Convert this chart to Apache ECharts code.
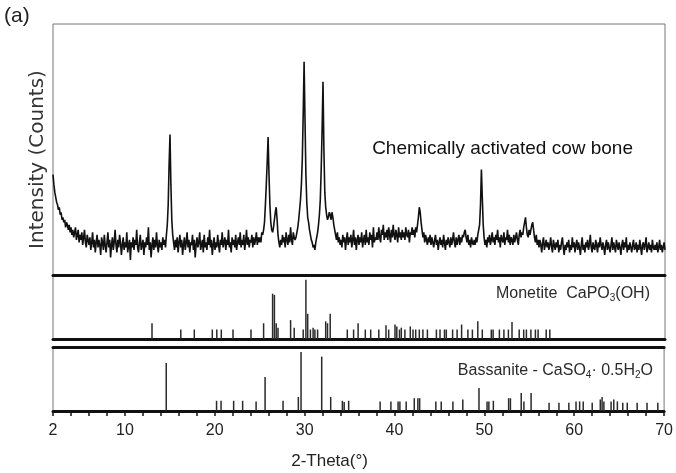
<!DOCTYPE html>
<html>
<head>
<meta charset="utf-8">
<script src="https://cdn.jsdelivr.net/npm/echarts@6/dist/echarts.min.js"></script>
<style>
  html, body { margin: 0; padding: 0; background: #fff; }
  #main { width: 676px; height: 473px; }
</style>
</head>
<body>
<div id="main"></div>
<script>
var myChart = echarts.init(document.getElementById('main'));

// measured pattern, 2-theta from 2 to 70 in 0.1 steps (relative counts)
var scanStart = 2;
var scanStep = 0.1;
var counts = [
  40,36,33,31,29,28,26,27,24,25,
  22,23,21,22,19,21,20,18,20,17,
  19,16,18,15,17,19,14,16,18,13,
  16,14,17,12,15,18,13,11,16,14,
  12,15,10,13,17,11,14,9,13,16,
  11,14,12,8,15,13,10,16,12,9,
  13,17,11,14,7,12,15,10,13,18,
  12,9,14,11,16,13,8,12,15,10,
  13,11,17,9,12,14,6,13,11,15,
  10,14,12,18,11,9,13,16,10,12,
  14,8,13,11,15,12,19,10,13,7,
  12,15,10,14,11,17,12,9,14,11,
  13,10,15,12,14,11,16,20,28,44,
  56,36,22,16,13,10,14,11,15,9,
  13,16,11,14,8,12,15,10,13,17,
  11,14,9,13,12,16,10,14,7,12,
  15,11,13,17,10,12,14,9,16,11,
  13,10,15,12,18,11,14,8,12,15,
  10,13,11,16,12,9,14,12,17,11,
  13,15,10,14,12,18,11,13,9,15,
  12,14,11,16,10,13,15,12,17,11,
  14,12,16,10,13,18,12,15,11,14,
  13,16,11,15,12,14,17,12,15,13,
  15,13,17,16,18,21,28,36,45,55,
  40,28,21,18,17,19,22,25,27,22,
  16,13,11,14,12,16,13,15,11,17,
  14,12,16,13,19,14,12,17,15,14,
  15,17,19,22,26,30,36,46,64,85,
  62,40,29,23,21,18,16,14,13,11,
  12,10,13,15,17,20,24,30,42,58,
  77,50,33,27,24,22,23,25,24,22,
  25,23,20,18,16,14,17,13,15,12,
  14,11,16,13,15,10,14,17,12,15,
  13,16,11,14,18,12,15,10,14,16,
  12,15,13,17,11,14,16,12,18,13,
  15,12,17,14,16,11,19,13,15,14,
  17,14,19,15,13,18,16,20,14,17,
  15,18,14,19,16,13,18,15,20,16,
  14,18,16,13,19,15,17,14,18,15,
  17,14,19,16,15,18,13,17,16,19,
  16,18,15,19,17,20,23,27,25,21,
  18,15,17,13,16,14,12,15,13,16,
  12,15,13,11,14,16,12,14,10,13,
  15,12,14,11,16,13,10,14,12,15,
  13,11,15,12,14,17,13,11,15,12,
  14,16,12,15,13,16,15,17,18,15,
  13,16,12,14,11,15,13,12,14,12,
  15,13,16,16,20,28,42,31,20,15,
  12,14,11,15,13,16,12,14,17,13,
  15,12,16,14,18,13,15,11,16,14,
  13,17,12,15,14,18,13,16,12,15,
  14,12,16,13,15,17,14,12,16,18,
  15,17,16,19,21,23,19,16,15,18,
  16,18,20,21,18,15,13,16,12,14,
  11,14,12,9,13,15,10,12,14,11,
  13,10,12,15,11,9,14,12,10,13,
  11,14,9,12,10,13,15,11,8,12,
  10,13,11,14,9,12,10,15,11,13,
  9,12,14,10,13,11,8,12,15,10,
  12,9,13,11,14,10,12,16,11,9,
  13,11,10,14,12,9,13,11,15,12,
  10,13,11,8,12,14,10,13,11,9,
  12,15,10,13,11,9,14,12,10,13,
  11,8,12,14,10,13,11,15,9,12,
  10,13,11,9,12,14,10,11,13,9,
  12,10,14,11,8,12,13,10,12,15,
  9,11,13,10,12,9,14,11,10,12,
  10,13,9,11,14,10,12,9,11,13,
  10
];

// reference stick patterns (2-theta, relative intensity)
var monetitePos = [13.0, 16.2, 17.7, 19.7, 20.2, 20.7, 22.0, 24.0, 25.4, 26.4, 26.6, 26.8, 27.0,
  28.4, 28.8, 29.8, 30.1, 30.3, 30.6, 30.9, 31.1, 31.4, 32.3, 32.5, 32.8, 34.7, 35.4, 35.9,
  36.7, 37.3, 38.2, 39.0, 39.3, 40.0, 40.2, 40.5, 40.7, 41.1, 41.7, 42.0, 42.3, 42.7, 43.1,
  43.6, 44.6, 45.0, 45.5, 45.7, 46.4, 46.9, 47.4, 48.1, 48.6, 49.2, 49.7, 50.7, 50.9, 51.6,
  52.1, 52.6, 53.0, 53.8, 54.3, 54.6, 55.1, 55.6, 55.9, 56.8, 57.2];
var monetiteInt = [25, 15, 15, 15, 15, 15, 15, 15, 25, 72, 70, 25, 18,
  30, 18, 15, 94, 40, 15, 18, 15, 15, 28, 25, 40, 15, 15, 25,
  15, 15, 15, 22, 15, 23, 20, 15, 18, 15, 20, 15, 15, 15, 15,
  15, 15, 15, 15, 15, 15, 15, 23, 15, 15, 28, 15, 15, 15, 15,
  15, 15, 27, 15, 15, 15, 15, 15, 15, 15, 15];

var bassanitePos = [14.6, 20.2, 20.7, 22.1, 23.1, 24.6, 25.6, 27.6, 29.3, 29.6, 31.9, 32.9,
  34.2, 34.4, 34.9, 38.4, 39.6, 40.4, 40.6, 41.3, 42.2, 42.6, 42.8, 44.6, 45.2, 46.5, 47.6,
  49.4, 50.3, 50.5, 51.0, 52.7, 52.9, 54.1, 54.4, 55.2, 57.2, 58.3, 59.4, 60.2, 60.6, 61.0,
  62.0, 62.9, 63.1, 63.3, 64.1, 64.4, 64.8, 65.4, 65.9, 67.0, 68.1, 69.3];
var bassaniteInt = [75, 16, 16, 16, 16, 15, 53, 16, 22, 92, 85, 22,
  16, 14, 16, 15, 15, 15, 15, 15, 20, 20, 20, 15, 15, 15, 18,
  36, 15, 15, 16, 20, 20, 28, 15, 28, 13, 13, 13, 15, 15, 15,
  13, 18, 22, 15, 15, 18, 15, 13, 13, 13, 13, 13];

var xLabels = [2, 10, 20, 30, 40, 50, 60, 70];

var sans = "'Liberation Sans', Arial, sans-serif";

var hiddenX = function (idx) {
  return {
    gridIndex: idx, type: 'value', min: 2, max: 70,
    axisLine: { lineStyle: { color: '#111', width: 3 } },
    axisTick: { show: false }, axisLabel: { show: false }, splitLine: { show: false }
  };
};
var hiddenY = function (idx) {
  return {
    gridIndex: idx, type: 'value', min: 0, max: 100,
    axisLine: { show: false }, axisTick: { show: false },
    axisLabel: { show: false }, splitLine: { show: false }
  };
};

var yTop = hiddenY(0);
yTop.name = 'Intensity (Counts)';
yTop.nameLocation = 'middle';
yTop.nameGap = 5;
yTop.nameTextStyle = { fontSize: 20, color: '#333', fontFamily: "'DejaVu Sans', sans-serif", padding: [0, 20, 0, 0] };

var xBottom = {
  gridIndex: 2, type: 'value', min: 2, max: 70, interval: 2,
  axisLine: { lineStyle: { color: '#111', width: 3 } },
  axisTick: { length: 5, lineStyle: { color: '#111', width: 1.5 } },
  axisLabel: {
    fontSize: 16, color: '#222', margin: 12, fontFamily: sans,
    formatter: function (v) { return xLabels.indexOf(v) >= 0 ? String(v) : ''; }
  },
  splitLine: { show: false },
  name: '2-Theta(°)',
  nameLocation: 'middle',
  nameGap: 42,
  nameTextStyle: { fontSize: 17, color: '#222', fontFamily: sans, padding: [0, 58, 0, 0] }
};
var xBottomTop = hiddenX(2);
xBottomTop.position = 'top';

var subStyle = {
  a: { fontSize: 16, color: '#2a2a2a', fontFamily: sans, fontWeight: 'normal', lineHeight: 18 },
  s: { fontSize: 10, color: '#2a2a2a', fontFamily: sans, fontWeight: 'normal', verticalAlign: 'bottom', lineHeight: 12 }
};

var option = {
  animation: false,
  title: [
    { text: '(a)', left: 4, top: 6, padding: 0,
      textStyle: { fontSize: 21, fontWeight: 'normal', color: '#222', fontFamily: sans } },
    { text: 'Chemically activated cow bone', right: 43, top: 139, padding: 0,
      textStyle: { fontSize: 19, fontWeight: 'normal', color: '#111', fontFamily: sans } },
    { text: '{a|Monetite  CaPO}{s|3}{a|(OH)}', right: 26, top: 285, padding: 0,
      textStyle: { fontWeight: 'normal', rich: subStyle } },
    { text: '{a|Bassanite - CaSO}{s|4}{a|· 0.5H}{s|2}{a|O}', right: 23, top: 362, padding: 0,
      textStyle: { fontWeight: 'normal', rich: subStyle } }
  ],
  grid: [
    { left: 53, right: 11, top: 24, height: 251, show: true, borderColor: '#777', borderWidth: 1 },
    { left: 53, right: 11, top: 276, height: 63, show: true, borderColor: '#777', borderWidth: 1 },
    { left: 53, right: 11, top: 347, height: 64, show: true, borderColor: '#777', borderWidth: 1 }
  ],
  xAxis: [hiddenX(0), hiddenX(1), xBottom, xBottomTop],
  yAxis: [yTop, hiddenY(1), hiddenY(2)],
  series: [
    {
      type: 'line', xAxisIndex: 0, yAxisIndex: 0, showSymbol: false,
      lineStyle: { color: '#111', width: 1.6 },
      data: counts.map(function (c, i) { return [scanStart + i * scanStep, c]; })
    },
    {
      type: 'bar', xAxisIndex: 1, yAxisIndex: 1, barWidth: 1.5,
      itemStyle: { color: '#2a2a2a' },
      data: monetitePos.map(function (p, i) { return [p, monetiteInt[i]]; })
    },
    {
      type: 'bar', xAxisIndex: 2, yAxisIndex: 2, barWidth: 1.5,
      itemStyle: { color: '#2a2a2a' },
      data: bassanitePos.map(function (p, i) { return [p, bassaniteInt[i]]; })
    }
  ]
};

option && myChart.setOption(option);
</script>
</body>
</html>
